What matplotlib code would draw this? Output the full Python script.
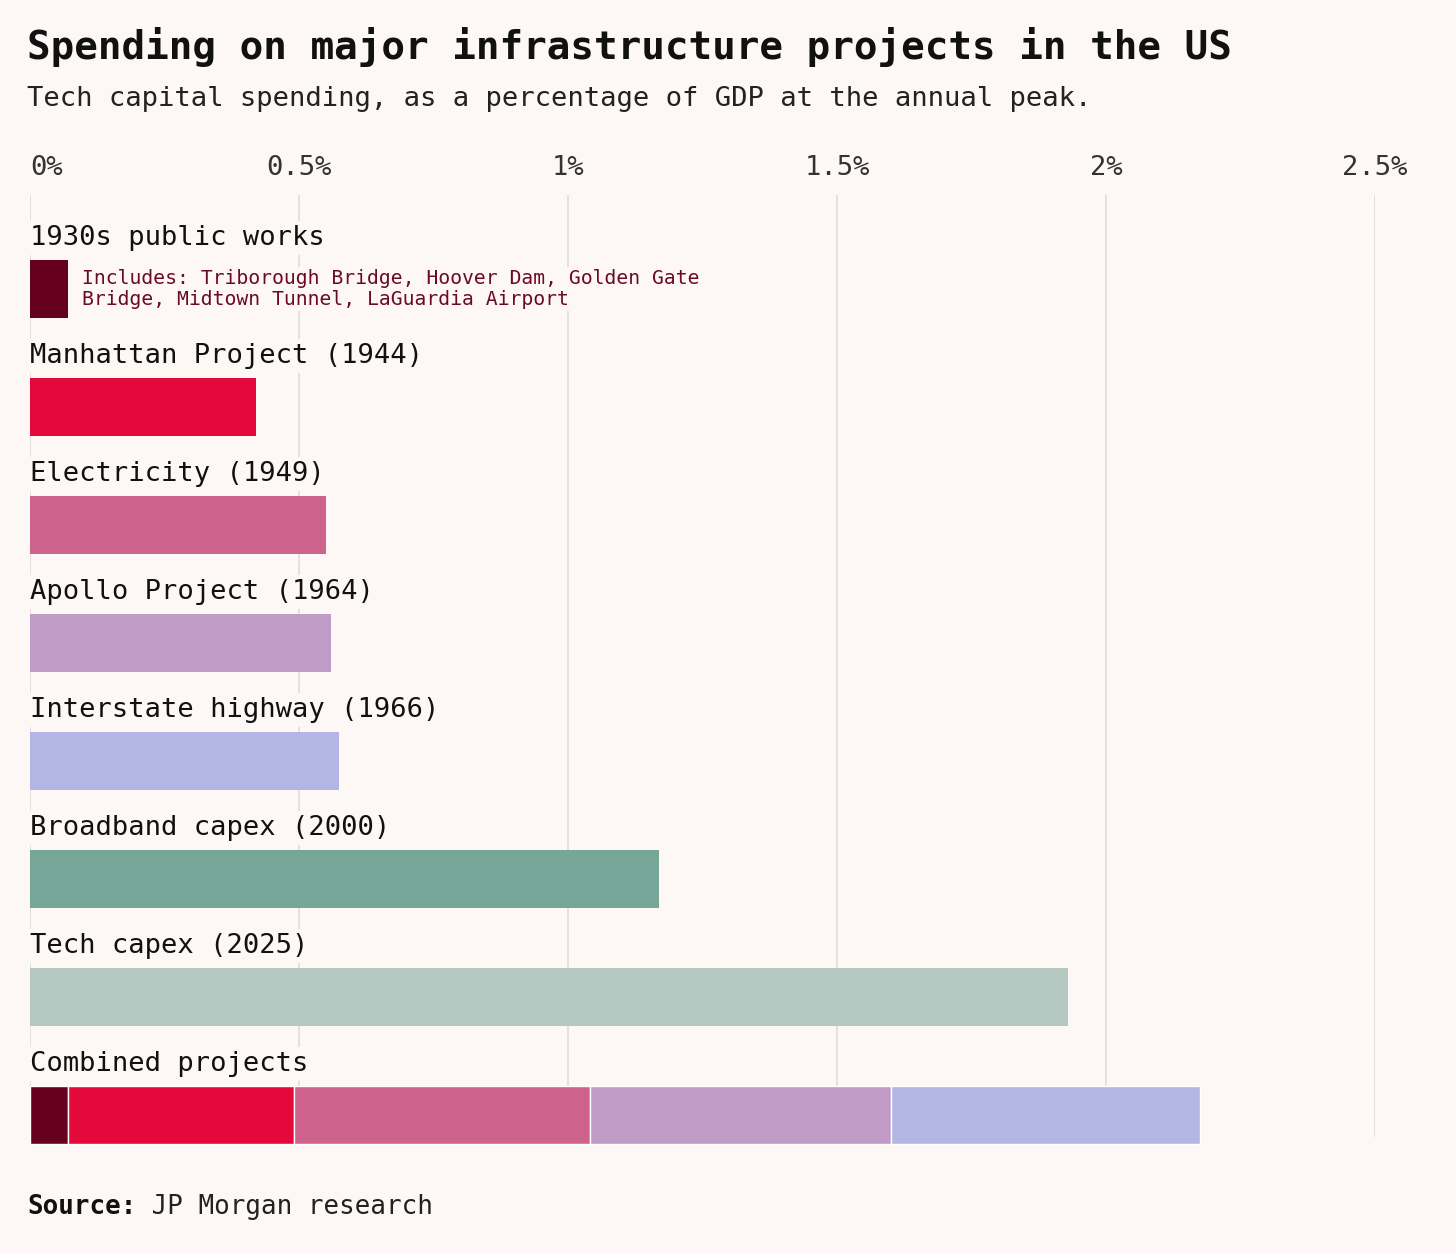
import matplotlib
matplotlib.use("Agg")
import matplotlib.pyplot as plt
import matplotlib.transforms as mtransforms

# ---- data ----
categories = ["1930s public works", "Manhattan Project (1944)", "Electricity (1949)",
              "Apollo Project (1964)", "Interstate highway (1966)", "Broadband capex (2000)",
              "Tech capex (2025)"]
values = [0.07, 0.42, 0.55, 0.56, 0.575, 1.17, 1.93]
colors = ["#650021", "#E30A3B", "#CD628C", "#BF9BC6", "#B3B5E2", "#77A598", "#B5C8C1"]
combined_label = "Combined projects"
combined_parts = [0, 1, 2, 3, 4]  # indices of projects stacked in combined bar
tick_values = [0, 0.5, 1, 1.5, 2, 2.5]
tick_labels = ["0%", "0.5%", "1%", "1.5%", "2%", "2.5%"]
title = "Spending on major infrastructure projects in the US"
subtitle = "Tech capital spending, as a percentage of GDP at the annual peak."
note = "Includes: Triborough Bridge, Hoover Dam, Golden Gate\nBridge, Midtown Tunnel, LaGuardia Airport"
source_bold = "Source:"
source_text = " JP Morgan research"

BG = "#FDF8F6"
MONO = ["DejaVu Sans Mono"]
W, H = 1456, 1253

fig = plt.figure(figsize=(W / 100, H / 100), dpi=100, facecolor=BG)

ax_top_px, ax_bot_px = 195, 1150
ax = fig.add_axes([30 / W, 1 - ax_bot_px / H, 1345 / W, (ax_bot_px - ax_top_px) / H])
ax.set_facecolor(BG)
ax.set_xlim(0, 2.5)
row_px = 118.0
first_center_px = 289.0
y_top = -(first_center_px - ax_top_px) / row_px
y_bot = 7 + (ax_bot_px - (first_center_px + 7 * row_px)) / row_px
ax.set_ylim(y_bot, y_top)
for s in ax.spines.values():
    s.set_visible(False)
ax.set_xticks([])
ax.set_yticks([])

# gridlines
grid_bottom = 7 + (1137 - (first_center_px + 7 * row_px)) / row_px
ax.vlines(tick_values, y_top, grid_bottom, color="#DDD9D7", lw=1.1, zorder=0)

bar_h = 58 / row_px
ys = list(range(len(categories)))
ax.barh(ys, values, height=bar_h, color=colors, edgecolor="none", zorder=2)

# combined bar
left = 0
for idx in combined_parts:
    ax.barh(7, values[idx], left=left, height=bar_h, color=colors[idx],
            edgecolor="#FFFFFF", linewidth=1.0, zorder=2)
    left += values[idx]

# labels
label_off = 51 / row_px
all_labels = categories + [combined_label]
for i, lab in enumerate(all_labels):
    ax.text(0, i - label_off, lab, ha="left", va="center", fontsize=19.5,
            family=MONO, color="#111111", zorder=3,
            bbox=dict(fc=BG, ec="none", pad=3))

# note for 1930s
ax.annotate(note, xy=(values[0], 0), xytext=(10, 0), textcoords="offset points",
            ha="left", va="center", fontsize=14.2, family=MONO, color="#6B0A24",
            linespacing=1.15, zorder=3, bbox=dict(fc=BG, ec="none", pad=1))

# tick labels
trans = mtransforms.blended_transform_factory(ax.transData, ax.transAxes)
tick_y = (ax_bot_px - 168) / (ax_bot_px - ax_top_px)
for v, t in zip(tick_values, tick_labels):
    ax.text(v, tick_y, t, transform=trans, ha="left" if v == 0 else "center",
            va="center", fontsize=19.5, family=MONO, color="#333333")

# title / subtitle
fig.text(27 / W, 1 - 47 / H, title, ha="left", va="center", fontsize=28.3,
         family=MONO, fontweight="bold", color="#111111")
fig.text(27 / W, 1 - 99 / H, subtitle, ha="left", va="center", fontsize=19.6,
         family=MONO, color="#222222")

# source
src = fig.text(27 / W, 1 - 1207 / H, source_bold, ha="left", va="center",
               fontsize=18.6, family=MONO, fontweight="bold", color="#111111")
ax.annotate(source_text, xy=(1, 0), xycoords=src, ha="left", va="bottom",
            fontsize=18.6, family=MONO, color="#222222", annotation_clip=False)

fig.savefig("out.png", dpi=100, facecolor=BG)
